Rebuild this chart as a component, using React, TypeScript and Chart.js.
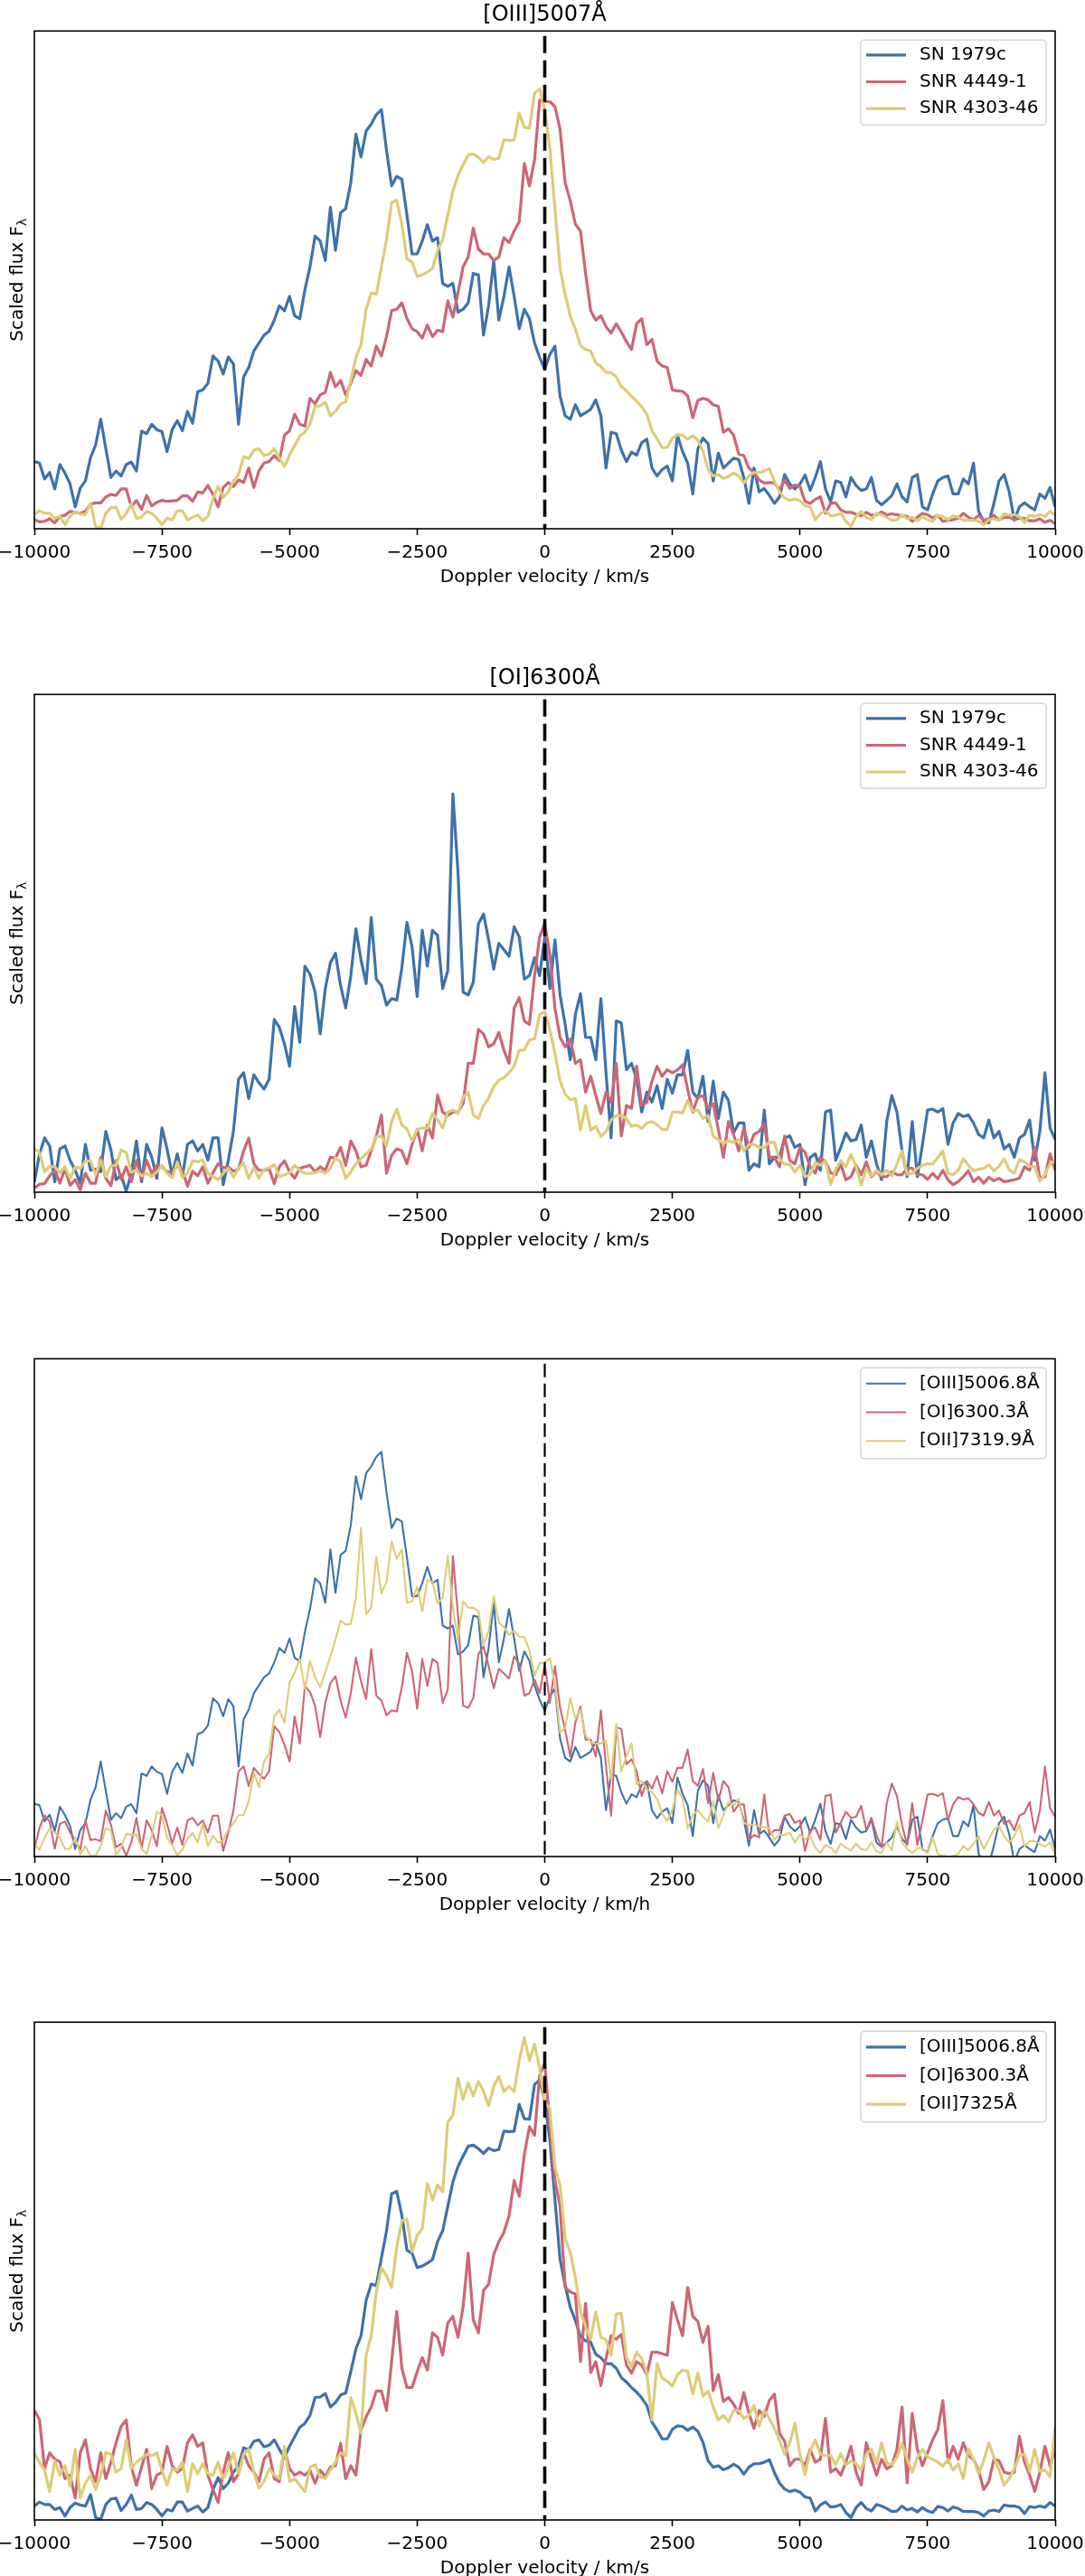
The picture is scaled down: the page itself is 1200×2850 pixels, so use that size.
import React, { useEffect, useRef } from 'react';
import { Chart, registerables } from 'chart.js';

Chart.register(...registerables);

// Doppler velocity grid (km/s)
const velocity = [
  -10000, -9900, -9800, -9700, -9600, -9500, -9400, -9300, -9200, -9100,
  -9000, -8900, -8800, -8700, -8600, -8500, -8400, -8300, -8200, -8100,
  -8000, -7900, -7800, -7700, -7600, -7500, -7400, -7300, -7200, -7100,
  -7000, -6900, -6800, -6700, -6600, -6500, -6400, -6300, -6200, -6100,
  -6000, -5900, -5800, -5700, -5600, -5500, -5400, -5300, -5200, -5100,
  -5000, -4900, -4800, -4700, -4600, -4500, -4400, -4300, -4200, -4100,
  -4000, -3900, -3800, -3700, -3600, -3500, -3400, -3300, -3200, -3100,
  -3000, -2900, -2800, -2700, -2600, -2500, -2400, -2300, -2200, -2100,
  -2000, -1900, -1800, -1700, -1600, -1500, -1400, -1300, -1200, -1100,
  -1000, -900, -800, -700, -600, -500, -400, -300, -200, -100,
  0, 100, 200, 300, 400, 500, 600, 700, 800, 900,
  1000, 1100, 1200, 1300, 1400, 1500, 1600, 1700, 1800, 1900,
  2000, 2100, 2200, 2300, 2400, 2500, 2600, 2700, 2800, 2900,
  3000, 3100, 3200, 3300, 3400, 3500, 3600, 3700, 3800, 3900,
  4000, 4100, 4200, 4300, 4400, 4500, 4600, 4700, 4800, 4900,
  5000, 5100, 5200, 5300, 5400, 5500, 5600, 5700, 5800, 5900,
  6000, 6100, 6200, 6300, 6400, 6500, 6600, 6700, 6800, 6900,
  7000, 7100, 7200, 7300, 7400, 7500, 7600, 7700, 7800, 7900,
  8000, 8100, 8200, 8300, 8400, 8500, 8600, 8700, 8800, 8900,
  9000, 9100, 9200, 9300, 9400, 9500, 9600, 9700, 9800, 9900,
  10000,
];

const xTicks = [-10000, -7500, -5000, -2500, 0, 2500, 5000, 7500, 10000];

// scaled flux, [OIII]5007
const oiiiSn1979c = [
  13.5, 13.2, 10.0, 11.3, 8.0, 12.9, 11.2, 9.0, 4.4, 8.2, 9.6, 14.3, 16.8, 22.0, 16.1, 10.3, 11.6, 10.6, 12.9, 13.4,
  11.6, 19.6, 19.1, 21.0, 19.9, 19.5, 15.5, 19.9, 21.7, 19.7, 23.6, 21.2, 27.5, 27.9, 29.2, 34.7, 33.7, 31.1, 34.5, 33.1,
  21.0, 30.5, 32.4, 35.7, 37.3, 38.9, 39.7, 41.9, 44.8, 43.8, 46.7, 42.8, 42.2, 48.0, 52.6, 58.8, 57.8, 53.9, 64.6, 55.9,
  63.5, 64.3, 69.5, 79.3, 74.7, 79.9, 81.3, 83.2, 84.2, 76.0, 68.9, 70.8, 70.2, 63.0, 55.2, 55.2, 57.8, 61.1, 57.8, 58.5,
  49.3, 48.7, 49.3, 43.5, 44.1, 45.4, 51.3, 51.0, 38.9, 44.8, 53.9, 41.9, 46.7, 52.6, 46.7, 40.2, 44.1, 42.2, 37.3, 34.4,
  32.1,
  35.0, 36.7, 26.6, 22.7, 22.0, 24.9, 22.7, 23.3, 24.0, 25.9, 22.7, 12.2, 19.4, 19.1, 15.8, 13.5, 15.4, 14.8, 17.3, 18.0,
  12.2, 10.6, 11.9, 12.6, 9.6, 18.8, 15.5, 13.2, 7.0, 16.1, 18.2, 17.1, 9.6, 15.2, 12.2, 13.2, 14.2, 13.9, 10.3, 5.1,
  12.2, 7.4, 8.1, 6.7, 5.1, 6.4, 10.9, 9.0, 8.0, 9.0, 10.8, 7.7, 10.3, 13.5, 8.0, 5.4, 9.6, 9.3, 6.4, 10.3,
  8.7, 7.7, 8.0, 10.3, 5.7, 4.8, 5.7, 6.7, 9.0, 6.4, 5.4, 10.3, 10.9, 4.4, 3.8, 7.0, 9.6, 10.3, 10.6, 7.0,
  7.0, 10.0, 9.0, 13.2, 3.5, 1.5, 1.2, 5.1, 9.6, 10.9, 7.4, 1.8, 4.4, 5.2, 4.4, 3.8, 7.0, 6.1, 8.3, 4.4,
];
const oiiiSnr4449 = [
  1.8, 1.4, 1.5, 2.0, 1.2, 2.5, 2.7, 3.5, 3.3, 3.1, 3.5, 4.9, 5.2, 5.2, 6.4, 6.9, 6.7, 8.0, 8.0, 4.4,
  5.7, 3.9, 6.7, 4.6, 5.3, 5.7, 5.5, 5.6, 5.7, 6.6, 6.6, 5.5, 7.4, 7.2, 8.7, 6.9, 4.4, 8.3, 9.3, 8.5,
  9.8, 9.3, 12.2, 8.3, 11.6, 13.2, 13.5, 14.7, 13.7, 18.8, 19.7, 23.0, 21.0, 20.6, 26.2, 25.1, 26.9, 27.4, 31.4, 28.5,
  29.8, 26.9, 29.2, 31.8, 30.8, 34.0, 32.7, 36.7, 34.7, 38.6, 43.8, 44.1, 45.4, 42.2, 40.2, 39.6, 38.3, 40.9, 38.6, 39.9,
  39.6, 45.8, 42.5, 47.4, 52.6, 54.6, 60.4, 56.2, 55.2, 55.2, 53.9, 54.6, 58.5, 57.5, 59.8, 61.7, 73.4, 68.9, 74.1, 86.1,
  85.8,
  85.8, 84.8, 80.3, 69.5, 65.9, 61.2, 59.8, 51.3, 43.8, 41.9, 42.8, 40.6, 39.3, 41.2, 39.5, 37.6, 36.0, 41.2, 42.2, 37.0,
  38.0, 33.7, 32.7, 32.4, 27.9, 27.7, 27.6, 26.7, 22.3, 25.8, 26.2, 25.9, 24.9, 24.6, 19.4, 20.1, 18.8, 15.0, 14.7, 12.2,
  11.3, 9.8, 9.2, 9.3, 9.2, 7.8, 9.8, 8.1, 8.8, 8.5, 5.5, 5.1, 5.9, 6.4, 3.1, 5.1, 5.2, 3.8, 3.3, 3.3,
  2.9, 2.6, 3.3, 2.7, 2.8, 3.4, 2.8, 3.0, 2.8, 2.6, 2.5, 1.5, 2.3, 3.1, 2.8, 2.2, 2.7, 1.5, 1.7, 1.8,
  2.1, 3.1, 2.3, 1.8, 2.7, 1.7, 2.0, 2.7, 1.8, 2.3, 2.3, 1.8, 2.1, 2.1, 1.6, 1.6, 2.0, 1.3, 1.7, 1.0,
];
const oiiiSnr4303 = [
  2.8, 3.6, 3.1, 3.1, 2.1, 2.5, 0.8, 2.5, 3.4, 3.0, 2.8, 5.1, 0.5, 0.1, 3.1, 4.2, 4.4, 1.9, 3.1, 5.0,
  2.1, 2.3, 3.5, 3.1, 2.1, 0.8, 2.1, 1.8, 3.6, 3.6, 1.8, 2.3, 2.8, 1.6, 2.5, 6.1, 8.5, 6.3, 7.4, 9.6,
  10.9, 14.5, 14.1, 15.8, 16.1, 14.7, 15.0, 16.1, 14.2, 12.5, 14.8, 16.7, 18.6, 19.4, 21.0, 24.6, 24.7, 25.4, 22.7, 23.6,
  25.1, 25.5, 29.8, 34.4, 37.0, 44.1, 47.4, 47.1, 52.6, 58.1, 65.5, 66.0, 61.2, 54.2, 53.6, 50.7, 51.0, 51.6, 52.3, 55.9,
  58.1, 63.0, 67.9, 71.0, 73.1, 75.1, 75.3, 74.6, 73.6, 74.7, 74.2, 74.4, 78.1, 78.0, 78.1, 83.5, 80.6, 80.5, 87.5, 88.4,
  84.2,
  76.4, 64.3, 52.3, 47.1, 42.7, 40.1, 36.8, 36.0, 35.7, 33.3, 32.6, 31.4, 31.4, 30.5, 28.6, 27.7, 26.6, 25.7, 24.5, 23.0,
  19.7, 18.1, 16.3, 16.3, 18.2, 18.9, 18.8, 18.0, 18.7, 17.8, 15.6, 11.9, 10.6, 10.9, 10.1, 10.5, 11.2, 10.6, 9.2, 10.6,
  11.3, 11.3, 11.6, 12.1, 9.5, 7.4, 6.2, 5.7, 6.0, 5.6, 4.6, 4.4, 1.8, 3.0, 3.6, 2.6, 2.7, 3.1, 1.5, 0.5,
  2.5, 3.5, 2.3, 1.8, 3.1, 2.8, 2.3, 1.7, 1.8, 2.8, 2.0, 2.3, 1.6, 2.5, 1.8, 1.5, 2.7, 2.5, 1.8, 2.6,
  2.3, 1.7, 1.7, 1.7, 1.5, 0.8, 1.8, 2.0, 1.7, 3.0, 2.8, 2.8, 2.5, 1.3, 2.7, 2.5, 2.8, 2.5, 3.5, 2.8,
];

// scaled flux, [OI]6300
const oiSn1979c = [
  2.0, 7.6, 10.9, 9.3, 2.1, 8.7, 9.3, 6.4, 4.4, 1.8, 9.6, 4.4, 4.6, 4.1, 12.2, 8.5, 2.5, 3.4, 0.2, 3.8,
  10.3, 2.1, 9.6, 7.0, 2.8, 12.9, 8.7, 3.5, 7.7, 3.1, 9.6, 10.3, 8.3, 9.6, 6.4, 10.9, 10.9, 1.5, 6.4, 12.2,
  22.7, 24.0, 18.8, 23.6, 22.0, 20.7, 22.7, 34.7, 33.1, 29.8, 25.3, 37.3, 30.1, 45.4, 43.8, 40.2, 31.8, 40.9, 46.1, 48.0,
  41.5, 37.0, 43.5, 52.9, 46.7, 41.9, 55.2, 42.8, 41.5, 37.6, 38.9, 38.6, 45.1, 54.2, 49.3, 39.3, 52.6, 45.4, 52.6, 51.6,
  40.9, 44.5, 80.0, 64.3, 40.2, 39.6, 42.2, 53.9, 55.9, 50.7, 44.8, 50.0, 48.7, 47.4, 53.3, 51.3, 42.8, 43.5, 47.1, 43.5,
  51.3,
  40.9, 50.7, 39.6, 33.7, 26.6, 35.7, 39.9, 31.1, 31.1, 26.6, 38.9, 24.0, 10.9, 34.4, 34.0, 24.6, 25.9, 22.7, 16.1, 20.1,
  18.1, 21.4, 16.8, 22.7, 19.9, 23.6, 23.6, 28.5, 20.1, 18.8, 23.3, 14.2, 22.3, 14.8, 20.1, 18.4, 11.9, 13.9, 13.9, 4.4,
  5.7, 5.1, 16.5, 5.7, 7.0, 7.0, 10.9, 11.3, 9.0, 9.6, 1.5, 7.0, 7.7, 4.4, 16.1, 16.5, 6.4, 9.0, 11.9, 10.3,
  10.6, 13.5, 7.0, 10.3, 5.7, 2.5, 14.2, 19.4, 16.1, 8.3, 3.1, 14.2, 3.1, 9.6, 16.5, 16.7, 16.1, 16.8, 9.6, 13.9,
  15.8, 15.2, 15.5, 13.9, 11.6, 10.9, 14.5, 10.9, 12.2, 8.7, 9.6, 7.0, 10.9, 11.6, 14.5, 6.4, 12.2, 24.0, 12.9, 10.6,
];
const oiSnr4449 = [
  0.8, 1.6, 1.7, 3.3, 4.4, 1.8, 4.7, 1.4, 2.5, 0.5, 3.8, 1.8, 1.8, 7.0, 2.8, 1.3, 6.4, 2.6, 5.1, 2.1,
  6.4, 2.7, 6.4, 3.8, 5.4, 5.1, 4.1, 4.0, 5.4, 4.4, 1.2, 4.2, 3.3, 5.1, 1.8, 3.9, 5.7, 4.9, 5.1, 4.2,
  4.6, 8.3, 10.9, 5.7, 4.4, 4.4, 4.7, 1.7, 5.1, 6.3, 4.1, 2.8, 4.8, 5.1, 5.4, 4.1, 5.1, 4.4, 7.0, 6.9,
  9.0, 5.4, 10.3, 8.3, 5.1, 5.4, 8.3, 11.3, 15.5, 3.8, 7.4, 8.7, 8.3, 5.7, 9.6, 12.6, 8.3, 13.5, 10.9, 19.5,
  16.1, 15.4, 16.1, 16.1, 17.8, 25.9, 25.9, 32.7, 31.8, 29.2, 29.8, 32.1, 28.5, 25.9, 37.0, 39.1, 34.4, 33.7, 43.5, 51.3,
  54.0,
  47.7, 37.0, 31.1, 29.2, 30.8, 25.9, 26.6, 20.1, 23.3, 19.4, 15.8, 20.1, 18.0, 25.9, 11.3, 17.4, 16.8, 25.3, 17.4, 18.1,
  22.3, 25.3, 23.3, 24.6, 24.0, 24.6, 25.6, 20.7, 16.1, 19.1, 19.4, 16.8, 17.8, 12.6, 7.0, 14.2, 11.6, 8.3, 12.9, 9.0,
  11.6, 12.2, 13.8, 7.0, 7.0, 5.1, 11.3, 6.4, 5.7, 9.0, 8.0, 5.1, 3.8, 7.0, 6.1, 3.9, 3.5, 5.6, 2.5, 3.1,
  5.4, 3.5, 6.1, 3.1, 4.2, 3.1, 3.1, 4.1, 3.5, 3.5, 4.8, 4.8, 3.5, 3.5, 2.6, 3.8, 2.7, 4.4, 2.5, 1.5,
  2.1, 3.1, 4.3, 2.1, 3.0, 1.8, 3.0, 2.3, 2.8, 2.1, 2.3, 2.5, 2.8, 5.1, 4.4, 9.0, 2.8, 3.1, 7.7, 4.4,
];
const oiSnr4303Compared = [
  8.7, 8.0, 4.1, 5.2, 5.1, 3.9, 5.1, 2.8, 5.1, 4.8, 6.3, 6.3, 3.5, 6.4, 3.1, 5.3, 5.4, 8.5, 8.0, 4.0,
  4.4, 3.3, 3.8, 3.1, 4.1, 5.4, 3.8, 2.9, 6.1, 3.0, 3.8, 6.3, 6.1, 6.5, 3.8, 3.1, 2.5, 3.8, 4.8, 3.0,
  4.8, 5.9, 2.8, 4.9, 2.8, 4.6, 4.9, 5.5, 3.1, 3.5, 3.9, 5.4, 4.4, 3.8, 3.8, 3.9, 4.3, 3.8, 4.8, 6.9,
  6.1, 2.8, 4.1, 5.7, 6.7, 7.7, 8.7, 11.1, 11.3, 9.3, 14.2, 16.7, 13.5, 12.7, 10.3, 12.6, 12.9, 12.8, 15.8, 14.6,
  12.9, 16.1, 16.5, 15.8, 19.1, 20.1, 15.5, 14.8, 17.4, 18.9, 21.2, 22.5, 23.0, 24.0, 25.3, 28.5, 28.6, 30.6, 30.8, 35.7,
  36.3,
  32.7, 27.9, 22.3, 19.7, 18.6, 18.8, 12.5, 17.4, 12.5, 13.2, 11.2, 12.2, 14.5, 15.4, 15.4, 14.8, 13.2, 13.5, 12.8, 13.9,
  14.2, 13.5, 12.6, 12.6, 16.1, 16.1, 15.9, 18.4, 16.3, 16.5, 14.8, 15.4, 11.2, 10.6, 9.8, 10.3, 10.0, 10.6, 8.3, 9.6,
  9.6, 9.0, 9.0, 10.0, 10.0, 6.6, 5.6, 5.6, 4.0, 5.4, 3.1, 3.6, 5.9, 5.4, 6.3, 1.5, 4.6, 6.3, 5.1, 7.6,
  5.1, 1.5, 4.7, 3.3, 4.4, 3.5, 4.4, 3.3, 5.6, 8.3, 3.6, 3.8, 4.8, 5.4, 5.7, 5.7, 6.9, 8.3, 3.8, 3.5,
  4.4, 6.7, 5.4, 4.3, 4.6, 4.8, 5.5, 4.3, 5.2, 6.7, 4.5, 3.8, 6.5, 6.1, 5.2, 5.1, 2.2, 3.6, 5.7, 6.4,
];
const oiSnr4303 = [
  22.0, 20.2, 10.3, 13.5, 12.2, 11.7, 8.3, 9.0, 4.4, 13.5, 16.1, 10.3, 7.7, 13.5, 8.3, 11.6, 15.5, 18.8, 20.1, 10.7,
  7.0, 10.6, 14.2, 6.3, 9.0, 9.6, 14.8, 10.9, 9.6, 10.3, 15.5, 17.1, 14.8, 15.5, 9.0, 6.1, 3.5, 9.6, 13.5, 7.7,
  9.3, 13.5, 10.9, 9.6, 7.7, 12.2, 13.5, 8.3, 7.7, 14.2, 10.3, 9.0, 9.6, 9.0, 10.0, 7.4, 10.0, 8.7, 10.6, 10.9,
  15.4, 8.3, 10.9, 9.0, 18.1, 20.7, 22.7, 25.9, 25.9, 22.0, 31.8, 41.9, 30.5, 26.6, 26.6, 29.8, 32.6, 30.1, 37.6, 36.7,
  33.1, 39.6, 40.9, 36.7, 42.8, 53.6, 40.2, 37.6, 46.1, 47.4, 53.3, 55.9, 57.8, 61.1, 68.2, 65.0, 73.4, 79.0, 77.3, 89.4,
  91.7,
  79.3, 68.2, 63.0, 46.7, 45.8, 45.4, 31.8, 43.5, 29.6, 31.8, 27.0, 32.4, 37.0, 36.3, 37.3, 31.1, 29.5, 31.8, 31.1, 29.2,
  33.7, 33.7, 33.4, 33.1, 43.7, 40.2, 37.0, 46.7, 40.9, 39.9, 35.7, 38.9, 26.0, 29.2, 23.8, 24.6, 23.3, 21.4, 25.6, 21.4,
  18.4, 22.0, 20.8, 24.0, 25.3, 17.4, 15.8, 10.9, 12.2, 12.2, 10.9, 14.2, 11.6, 12.2, 20.4, 9.6, 10.3, 9.0, 11.6, 14.8,
  9.6, 7.0, 15.5, 12.2, 9.0, 12.2, 10.3, 10.9, 14.2, 22.7, 7.4, 21.4, 14.2, 10.9, 13.5, 16.1, 18.1, 24.0, 11.6, 14.8,
  12.2, 15.5, 12.9, 12.2, 10.0, 6.1, 7.7, 12.2, 11.9, 9.6, 9.3, 9.6, 16.8, 11.6, 9.0, 5.7, 9.6, 14.8, 10.9, 14.2,
];

// scaled flux, [OII]7320
const oiiSn1979c = [
  2.5, 1.4, 3.8, 5.6, 4.8, 3.8, 1.5, 1.6, 3.8, 0.4, 2.1, 0.1, 0.2, 2.1, 5.7, 5.2, 0.4, 1.8, 4.6, 4.3,
  4.4, 1.6, 0.5, 4.2, 9.0, 8.3, 3.8, 2.3, 0.2, 1.4, 3.5, 4.8, 2.8, 6.6, 2.1, 4.2, 2.8, 3.3, 5.4, 6.6,
  8.3, 8.3, 11.1, 16.8, 13.9, 19.1, 20.7, 28.2, 29.5, 26.8, 35.0, 37.0, 39.6, 33.7, 39.3, 36.0, 34.0, 37.0, 40.2, 43.6,
  47.4, 46.6, 46.7, 52.0, 66.0, 48.7, 50.0, 60.2, 52.9, 55.2, 63.3, 59.8, 61.7, 51.0, 51.3, 54.2, 49.3, 55.5, 55.2, 50.9,
  52.0, 60.4, 50.0, 43.5, 51.3, 50.0, 50.0, 49.3, 42.5, 45.4, 52.3, 47.0, 46.1, 44.5, 45.4, 44.1, 44.1, 41.5, 36.3, 38.9,
  38.9,
  39.9, 34.5, 24.9, 25.9, 31.8, 27.7, 29.5, 24.3, 23.0, 22.7, 22.7, 23.3, 15.5, 26.6, 17.1, 20.1, 22.7, 14.5, 15.2, 13.5,
  12.9, 11.6, 8.7, 7.2, 9.3, 13.5, 11.6, 5.7, 8.3, 9.3, 8.0, 7.0, 11.1, 5.7, 8.3, 10.9, 10.3, 11.6, 6.7, 6.4,
  6.4, 6.1, 5.9, 5.7, 3.3, 4.4, 4.3, 4.8, 2.8, 4.4, 3.5, 4.1, 1.8, 0.7, 2.3, 1.8, 0.7, 2.6, 1.8, 1.2,
  2.6, 1.5, 1.3, 2.8, 1.0, 0.7, 2.8, 1.3, 7.0, 2.8, 1.6, 0.7, 1.7, 1.7, 0.7, 3.8, 0.5, 0.2, 0.0, 0.1,
  0.5, 2.1, 1.3, 2.5, 4.1, 1.5, 3.4, 5.4, 6.1, 4.1, 2.8, 4.1, 6.4, 2.1, 3.1, 3.1, 2.5, 2.0, 2.8, 0.5,
];
const oiiSnr4303 = [
  13.5, 11.6, 10.0, 5.7, 11.9, 9.0, 10.9, 6.8, 14.2, 4.4, 7.4, 9.0, 6.1, 9.0, 13.5, 13.2, 9.6, 10.3, 16.1, 10.3,
  11.6, 12.4, 13.2, 12.9, 13.5, 10.0, 7.0, 10.3, 10.0, 11.6, 5.7, 11.3, 9.3, 11.3, 9.3, 9.0, 11.6, 8.3, 10.6, 13.5,
  9.3, 13.2, 14.2, 9.6, 6.4, 7.7, 10.3, 9.0, 8.3, 14.8, 7.7, 8.3, 7.0, 5.7, 10.6, 11.1, 8.7, 8.3, 10.0, 11.6,
  13.5, 12.9, 24.6, 21.4, 17.4, 33.1, 37.0, 45.8, 50.7, 49.0, 46.7, 54.9, 60.1, 60.4, 53.9, 57.2, 58.5, 67.6, 64.3, 67.3,
  65.9, 79.9, 81.3, 88.7, 84.5, 87.8, 85.2, 88.1, 86.1, 83.2, 87.1, 89.1, 86.1, 87.1, 86.1, 92.3, 96.9, 92.3, 95.6, 90.7,
  84.0,
  82.6, 70.8, 67.3, 56.5, 53.8, 48.7, 41.9, 38.9, 36.3, 41.8, 36.7, 36.2, 33.1, 41.4, 41.5, 32.7, 30.8, 33.7, 32.4, 29.5,
  20.1, 31.4, 28.5, 27.9, 26.9, 29.2, 30.1, 29.9, 25.3, 29.5, 24.9, 25.9, 22.7, 20.1, 21.0, 19.7, 22.0, 22.0, 20.4, 21.0,
  23.0, 18.9, 22.0, 20.4, 18.4, 16.0, 13.2, 15.5, 19.4, 13.2, 9.1, 13.9, 16.1, 13.2, 12.9, 13.0, 11.1, 13.3, 11.1, 11.8,
  11.3, 10.0, 13.2, 14.2, 11.3, 15.5, 11.5, 11.1, 12.6, 15.4, 12.2, 9.6, 12.5, 14.2, 12.6, 12.2, 11.6, 10.8, 12.2, 10.0,
  11.3, 8.3, 14.3, 12.2, 9.3, 11.9, 15.5, 12.6, 10.0, 7.0, 8.3, 10.3, 12.9, 13.2, 9.8, 14.2, 9.8, 10.0, 8.7, 18.8,
];

// vertical marker at zero velocity
const zeroLineY = [99, -5];

// panel 3 re-normalises two of the SN 1979c lines
const p3OiiiRange = [2.9, 102.9];
const p3OiRange = [0, 132.5];

const FONT = 'DejaVu Sans';
const BLUE = '#3d72aa';
const RED = '#cc6677';
const YELLOW = '#ddcc77';

type Series = { label: string; values: number[]; color: string; axis: string };
type Panel = {
  top: number;
  title?: string;
  xTitle: string;
  yLabel: boolean;
  lw: number;
  dashWidth: number;
  dash: number[];
  legendFirst: number;
  legendStep: number;
  legendHeight: number;
  axes: Record<string, number[]>;
  series: Series[];
};

const panels: Panel[] = [
  {
    top: 0, title: '[OIII]5007Å', xTitle: 'Doppler velocity / km/s', yLabel: true,
    lw: 3.2, dashWidth: 3.6, dash: [19, 8], legendFirst: 16.5, legendStep: 29.7, legendHeight: 94,
    axes: {},
    series: [
      { label: 'SN 1979c', values: oiiiSn1979c, color: BLUE, axis: 'y' },
      { label: 'SNR 4449-1', values: oiiiSnr4449, color: RED, axis: 'y' },
      { label: 'SNR 4303-46', values: oiiiSnr4303, color: YELLOW, axis: 'y' },
    ],
  },
  {
    top: 734, title: '[OI]6300Å', xTitle: 'Doppler velocity / km/s', yLabel: true,
    lw: 3.2, dashWidth: 3.6, dash: [19, 8], legendFirst: 16.5, legendStep: 29.7, legendHeight: 94,
    axes: {},
    series: [
      { label: 'SN 1979c', values: oiSn1979c, color: BLUE, axis: 'y' },
      { label: 'SNR 4449-1', values: oiSnr4449, color: RED, axis: 'y' },
      { label: 'SNR 4303-46', values: oiSnr4303Compared, color: YELLOW, axis: 'y' },
    ],
  },
  {
    top: 1469, xTitle: 'Doppler velocity / km/h', yLabel: false,
    lw: 2.1, dashWidth: 2.2, dash: [15, 7], legendFirst: 17.5, legendStep: 31.7, legendHeight: 100.5,
    axes: { yOiii: p3OiiiRange, yOi: p3OiRange },
    series: [
      { label: '[OIII]5006.8Å', values: oiiiSn1979c, color: BLUE, axis: 'yOiii' },
      { label: '[OI]6300.3Å', values: oiSn1979c, color: RED, axis: 'yOi' },
      { label: '[OII]7319.9Å', values: oiiSn1979c, color: YELLOW, axis: 'y' },
    ],
  },
  {
    top: 2203, xTitle: 'Doppler velocity / km/s', yLabel: true,
    lw: 3.2, dashWidth: 3.6, dash: [19, 8], legendFirst: 17.5, legendStep: 31.7, legendHeight: 100.5,
    axes: {},
    series: [
      { label: '[OIII]5006.8Å', values: oiiiSnr4303, color: BLUE, axis: 'y' },
      { label: '[OI]6300.3Å', values: oiSnr4303, color: RED, axis: 'y' },
      { label: '[OII]7325Å', values: oiiSnr4303, color: YELLOW, axis: 'y' },
    ],
  },
];

const fmtTick = (v: number) => (v < 0 ? '\u2212' + Math.abs(v) : String(v));

function decorPlugin(p: Panel) {
  return {
    id: 'mplDecor',
    afterDraw(chart: any) {
      const { ctx, chartArea: a } = chart;
      ctx.save();
      // axes frame
      ctx.strokeStyle = '#000';
      ctx.lineWidth = 1.6;
      ctx.strokeRect(a.left, a.top, a.right - a.left, a.bottom - a.top);

      // legend box, upper right
      const w = 205;
      const bx = a.right - 10 - w;
      const by = a.top + 10;
      const r = 4;
      ctx.beginPath();
      ctx.moveTo(bx + r, by);
      ctx.lineTo(bx + w - r, by);
      ctx.arcTo(bx + w, by, bx + w, by + r, r);
      ctx.lineTo(bx + w, by + p.legendHeight - r);
      ctx.arcTo(bx + w, by + p.legendHeight, bx + w - r, by + p.legendHeight, r);
      ctx.lineTo(bx + r, by + p.legendHeight);
      ctx.arcTo(bx, by + p.legendHeight, bx, by + p.legendHeight - r, r);
      ctx.lineTo(bx, by + r);
      ctx.arcTo(bx, by, bx + r, by, r);
      ctx.closePath();
      ctx.fillStyle = 'rgba(255,255,255,0.8)';
      ctx.fill();
      ctx.strokeStyle = '#d6d6d6';
      ctx.lineWidth = 1.5;
      ctx.stroke();

      ctx.font = `20px "${FONT}"`;
      ctx.textAlign = 'left';
      ctx.textBaseline = 'middle';
      p.series.forEach((s, i) => {
        const y = by + p.legendFirst + i * p.legendStep;
        ctx.strokeStyle = s.color;
        ctx.lineWidth = p.lw;
        ctx.beginPath();
        ctx.moveTo(bx + 6, y);
        ctx.lineTo(bx + 50, y);
        ctx.stroke();
        ctx.fillStyle = '#000';
        ctx.fillText(s.label, bx + 65, y);
      });

      // y label with subscript lambda
      if (p.yLabel) {
        ctx.translate(25, (a.top + a.bottom) / 2);
        ctx.rotate(-Math.PI / 2);
        ctx.textBaseline = 'alphabetic';
        ctx.font = `20px "${FONT}"`;
        const main = 'Scaled flux F';
        const w1 = ctx.measureText(main).width;
        ctx.font = `14px "${FONT}"`;
        const w2 = ctx.measureText('λ').width;
        const x0 = -(w1 + w2) / 2;
        ctx.fillStyle = '#000';
        ctx.font = `20px "${FONT}"`;
        ctx.fillText(main, x0, 0);
        ctx.font = `14px "${FONT}"`;
        ctx.fillText('λ', x0 + w1, 4);
      }
      ctx.restore();
    },
  };
}

function SpectrumPanel({ p }: { p: Panel }) {
  const canvasRef = useRef<HTMLCanvasElement>(null);

  useEffect(() => {
    if (!canvasRef.current) return;

    const datasets: any[] = [
      {
        label: 'zero',
        data: zeroLineY.map((y) => ({ x: 0, y })),
        borderColor: '#000',
        borderWidth: p.dashWidth,
        borderDash: p.dash,
        pointRadius: 0,
        yAxisID: 'y',
        clip: 0,
      },
    ];
    // first dataset is drawn last, so reverse to keep blue at the bottom
    [...p.series].reverse().forEach((s) => {
      datasets.push({
        label: s.label,
        data: velocity.map((v, i) => ({ x: v, y: s.values[i] })),
        borderColor: s.color,
        borderWidth: p.lw,
        borderJoinStyle: 'round',
        pointRadius: 0,
        tension: 0,
        fill: false,
        yAxisID: s.axis,
        clip: 0,
      });
    });

    const extraAxes: Record<string, any> = {};
    Object.keys(p.axes).forEach((k) => {
      extraAxes[k] = { type: 'linear', display: false, min: p.axes[k][0], max: p.axes[k][1] };
    });

    const chart = new Chart(canvasRef.current, {
      type: 'line',
      data: { datasets },
      options: {
        responsive: false,
        maintainAspectRatio: false,
        animation: false,
        events: [],
        layout: { padding: { left: 0, right: 33, top: p.title ? 0 : 34.3, bottom: 0 } },
        plugins: {
          legend: { display: false },
          tooltip: { enabled: false },
          title: {
            display: !!p.title,
            text: p.title || '',
            fullSize: false,
            color: '#000',
            font: { family: FONT, size: 24, weight: 'normal' },
            padding: { top: 2, bottom: 3.5 },
          },
        },
        scales: {
          x: {
            type: 'linear',
            min: -10000,
            max: 10000,
            afterBuildTicks: (s: any) => {
              s.ticks = xTicks.map((v) => ({ value: v }));
            },
            ticks: {
              autoSkip: false,
              maxRotation: 0,
              minRotation: 0,
              padding: 8,
              color: '#000',
              font: { family: FONT, size: 20 },
              callback: (v: any) => fmtTick(Number(v)),
            },
            grid: {
              drawOnChartArea: false,
              drawTicks: true,
              tickLength: 7,
              tickWidth: 1.6,
              tickColor: '#000',
            },
            border: { display: false },
            title: {
              display: true,
              text: p.xTitle,
              color: '#000',
              font: { family: FONT, size: 20 },
              padding: 0,
            },
            afterFit: (s: any) => {
              s.height = 66;
              s.paddingLeft = 0;
              s.paddingRight = 0;
            },
          },
          y: {
            type: 'linear',
            position: 'left',
            min: 0,
            max: 100,
            ticks: { display: false },
            grid: { display: false },
            border: { display: false },
            afterFit: (s: any) => {
              s.width = 38;
              s.paddingTop = 0;
              s.paddingBottom = 0;
            },
          },
          ...extraAxes,
        },
      } as any,
      plugins: [decorPlugin(p)],
    });

    return () => {
      chart.destroy();
    };
  }, [p]);

  return (
    <div style={{ position: 'absolute', left: 0, top: p.top, width: 1200, height: 651 }}>
      <canvas ref={canvasRef} width={1200} height={651} style={{ display: 'block', width: 1200, height: 651 }} />
    </div>
  );
}

export default function App() {
  return (
    <div style={{ position: 'absolute', left: 0, top: 0, width: 1200, height: 2850, background: '#fff' }}>
      {panels.map((p, i) => (
        <SpectrumPanel key={i} p={p} />
      ))}
    </div>
  );
}
